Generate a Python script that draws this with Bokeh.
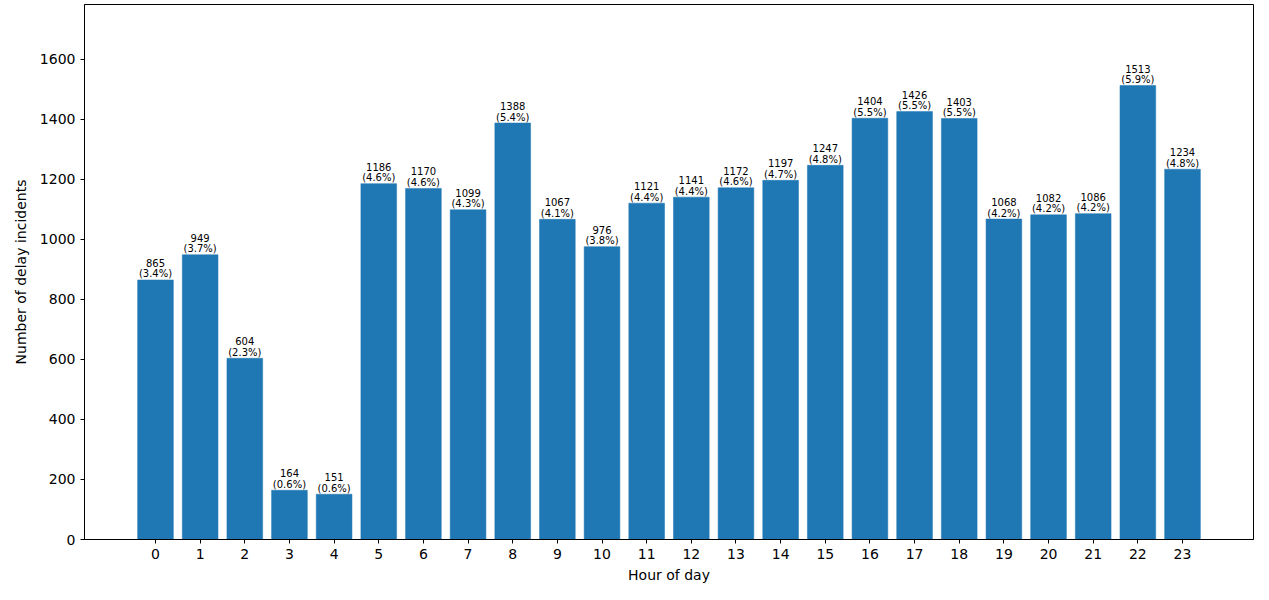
from bokeh.plotting import figure
from bokeh.models import ColumnDataSource, FixedTicker, Range1d
from bokeh.core.properties import value
from bokeh.embed import file_html
from bokeh.resources import INLINE

hours = list(range(24))
counts = [865, 949, 604, 164, 151, 1186, 1170, 1099, 1388, 1067, 976, 1121,
          1141, 1172, 1197, 1247, 1404, 1426, 1403, 1068, 1082, 1086, 1513, 1234]
pct_labels = ["3.4%", "3.7%", "2.3%", "0.6%", "0.6%", "4.6%", "4.6%", "4.3%",
              "5.4%", "4.1%", "3.8%", "4.4%", "4.4%", "4.6%", "4.7%", "4.8%",
              "5.5%", "5.5%", "5.5%", "4.2%", "4.2%", "4.2%", "5.9%", "4.8%"]
y_ticks = [0, 200, 400, 600, 800, 1000, 1200, 1400, 1600]

src = ColumnDataSource(dict(
    x=hours,
    top=counts,
    num=[str(c) for c in counts],
    pct=["(" + s + ")" for s in pct_labels],
))

FONT = "DejaVu Sans"

p = figure(width=1261, height=592, output_backend="svg", toolbar_location=None,
           x_range=Range1d(-1.59, 24.59), y_range=Range1d(0, 1783),
           min_border_left=84, min_border_right=8, min_border_top=4, min_border_bottom=53)

p.vbar(x="x", top="top", width=0.8, source=src, fill_color="#1f77b4", line_color="#1f77b4", line_width=0.5)

p.text(x="x", y="top", text="pct", source=src, text_align="center", text_baseline="middle",
       text_font=value(FONT), text_font_size="10px", text_color="black", y_offset=-6)
p.text(x="x", y="top", text="num", source=src, text_align="center", text_baseline="middle",
       text_font=value(FONT), text_font_size="10px", text_color="black", y_offset=-17)

p.xgrid.visible = False
p.ygrid.visible = False
p.outline_line_color = "black"
p.outline_line_width = 1
p.outline_line_alpha = 1

p.xaxis.ticker = FixedTicker(ticks=hours)
p.yaxis.ticker = FixedTicker(ticks=y_ticks)
for ax in (p.xaxis[0], p.yaxis[0]):
    ax.major_tick_in = 0
    ax.major_tick_out = 4
    ax.minor_tick_line_color = None
    ax.major_tick_line_color = "black"
    ax.axis_line_color = "black"
    ax.major_label_text_font = FONT
    ax.major_label_text_font_size = "14px"
    ax.major_label_text_color = "black"
    ax.axis_label_text_font = FONT
    ax.axis_label_text_font_size = "14px"
    ax.axis_label_text_font_style = "normal"
    ax.axis_label_text_color = "black"
    ax.major_label_standoff = 5
p.xaxis.axis_label = "Hour of day"
p.yaxis.axis_label = "Number of delay incidents"
p.xaxis.axis_label_standoff = 5
p.yaxis.axis_label_standoff = 8

open("out.html", "w").write(file_html(p, INLINE))
